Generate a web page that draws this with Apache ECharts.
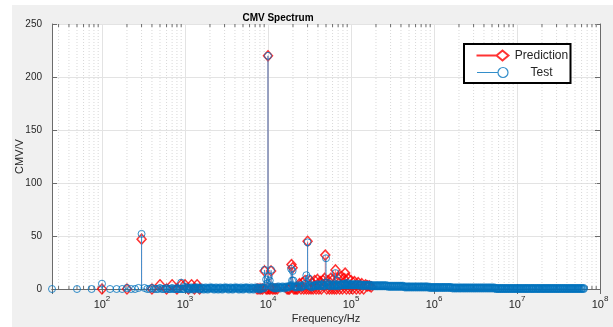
<!DOCTYPE html>
<html><head><meta charset="utf-8">
<script src="https://cdn.jsdelivr.net/npm/echarts@6/dist/echarts.min.js"></script>
<style>html,body{margin:0;padding:0;background:#fff}#c{width:613px;height:327px}</style>
</head><body><div id="c"></div>
<script>
// ---- tick labels ----
const xTickExps = [2, 3, 4, 5, 6, 7, 8];
const yTicks = [0, 50, 100, 150, 200, 250];
const seriesNames = ['Prediction', 'Test'];

// ---- Prediction (red diamonds) ----
const predFreq = [100, 200, 300, 400, 500, 600, 700, 800, 900, 1000, 1100, 1200, 1300, 1400, 1500,
  7400, 7800, 8200, 8600, 9100, 9500, 9800, 10000, 10300, 10600, 10900, 11300, 11800, 12300, 12900,
  17000, 17600, 18200, 19200, 19800, 20500, 21200, 21900, 22700,
  24000, 25000, 26000, 27000, 28000, 29000, 30000, 31000, 32000, 33000, 34000, 35000, 36500, 38000, 39500,
  41000, 42500, 44000, 46000, 48000, 49000, 51000, 53000, 55000, 57000, 59000, 61000, 63000, 65000, 67000,
  70000, 73000, 76000, 79000, 82000, 85000, 88000, 92000, 96000, 100000, 105000, 110000, 116000, 122000,
  128000, 135000, 142000, 150000, 158000, 166000, 175000];
const predVal = [0, 0, 47, 0, 4, 0, 4, 0, 4, 4, 0, 4, 0, 4, 0,
  0, 0, 0, 0, 17, 0, 0, 220, 0, 0, 17, 0, 0, 0, 0,
  0, 0, 0, 23, 20, 0, 0, 0, 0,
  5, 0, 6, 0, 8, 0, 45, 0, 8, 0, 6, 0, 8, 0, 9,
  0, 7, 0, 8, 10, 32, 0, 8, 0, 10, 0, 9, 0, 18, 0,
  10, 0, 12, 0, 10, 15, 0, 10, 0, 8, 0, 7, 0, 6,
  0, 5, 0, 4, 3, 3, 2];

// ---- Test (blue circles): discrete peaks / low-frequency bins ----
const testFreq = [25, 50, 75, 100, 125, 150, 175, 200, 225, 250, 275, 300, 325, 350, 375, 400, 425, 450, 475, 500,
  525, 550, 575, 600, 625, 650, 675, 700, 725, 750, 775, 800, 825, 850, 875, 900, 925, 950, 975, 1000,
  9100, 9500, 9800, 10000, 10200, 10500, 10900,
  19000, 19500, 19800, 20200, 28000, 29000, 30000, 31000,
  48000, 50000, 52000, 65000, 68000, 85000, 90000];
const testVal = [0, 0, 0, 5, 0, 0, 0, 1, 0, 0, 1, 52, 1, 0, 0, 1, 0, 0, 0, 1,
  0, 0, 0, 1, 0, 0, 0, 1, 0, 0, 0, 1, 0, 0, 0, 6, 0, 0, 0, 2,
  18, 9, 5, 220, 12, 8, 18,
  19, 8, 17, 8, 5, 13, 44, 10,
  6, 29, 6, 15, 8, 5, 6];

// ---- Test (blue circles): dense measured floor ----
const testFloorFreq = [1060, 1120, 1190, 1260, 1330, 1410, 1500, 1580, 1680, 1780, 1880, 2000, 2110, 2240, 2370, 2510,
  2660, 2820, 2990, 3160, 3350, 3550, 3760, 3980, 4220, 4470, 4730, 5010, 5310, 5620, 5960, 6310, 6680, 7080,
  7500, 7940, 8410, 8910,
  11200, 11900, 12600, 13300, 14100, 15000, 15800, 16800, 17800, 18800, 21100, 22400, 23700, 25100, 26600,
  31600, 33500, 35500, 37600, 39800, 42200, 44700, 47300, 53100, 56200, 59600, 63100, 66800, 70800, 75000,
  79400, 84100, 89100, 94400,
  100000, 106000, 112000, 119000, 126000, 133000, 141000, 150000, 158000, 168000, 178000, 188000, 200000,
  211000, 224000, 237000, 251000, 266000, 282000, 299000, 316000, 335000, 355000, 376000, 398000, 422000,
  447000, 473000, 501000, 531000, 562000, 596000, 631000, 668000, 708000, 750000, 794000, 841000, 891000, 944000,
  1000000, 1060000, 1120000, 1190000, 1260000, 1330000, 1410000, 1500000, 1580000, 1680000, 1780000, 1880000,
  2000000, 2110000, 2240000, 2370000, 2510000, 2660000, 2820000, 2990000, 3160000, 3350000, 3550000, 3760000,
  3980000, 4220000, 4470000, 4730000, 5010000, 5310000, 5620000, 5960000, 6310000, 6680000, 7080000, 7500000,
  7940000, 8410000, 8910000, 9440000,
  10000000, 10600000, 11200000, 11900000, 12600000, 13300000, 14100000, 15000000, 15800000, 16800000,
  17800000, 18800000, 20000000, 21100000, 22400000, 23700000, 25100000, 26600000, 28200000, 29900000,
  31600000, 33500000, 35500000, 37600000, 39800000, 42200000, 44700000, 47300000, 50100000, 53100000,
  56200000, 59600000, 63100000];
const testFloorVal = [1, 0, 1, 0, 1, 1, 0, 1, 0, 1, 0, 1, 1, 0, 1, 0,
  1, 0, 1, 1, 0, 1, 0, 1, 1, 0, 1, 0, 1, 1, 0, 1, 0, 1,
  1, 0, 1, 1,
  2, 1, 1, 2, 1, 2, 1, 2, 2, 3, 2, 2, 3, 2, 3,
  3, 2, 3, 3, 4, 3, 4, 3, 4, 3, 4, 3, 4, 3, 4,
  4, 4, 4, 4,
  4, 4, 4, 4, 4, 3.5, 3.5, 3.5, 3.5, 3.5, 3, 3, 3,
  3, 3, 3, 3, 3, 2.5, 2.5, 2.5, 2.5, 2.5, 2.5, 2.5, 2.5,
  2, 2, 2, 2, 2, 2, 2, 2, 2, 2, 2, 2, 1.5, 1.5,
  1.5, 1.5, 1.5, 1.5, 1.5, 1.5, 1.5, 1.5, 1.5, 1, 1, 1,
  1, 1, 1, 1, 1, 1, 1, 1, 1, 1, 1, 1,
  1, 1, 1, 1, 1, 1, 0.5, 0.5, 0.5, 0.5, 0.5, 0.5,
  0.5, 0.5, 0.5, 0.5,
  0.5, 0.5, 0.5, 0.5, 0.5, 0.5, 0.5, 0.5, 0.5, 0.5,
  0.5, 0.5, 0.5, 0.5, 0.5, 0.5, 0.5, 0.5, 0.5, 0.5,
  0.5, 0.5, 0.5, 0.5, 0.5, 0.5, 0.5, 0.5, 0.5, 0.5,
  0.5, 0.5, 0.5];

const RED = '#ff0000';
const BLUE = '#0072bd';
const STEM_BLUE = '#3d8fcf';
const AXIS = '#6b6b6b';
const TXT = '#262626';
const X_MIN = 25, X_MAX = 1e8;

const predData = predFreq.map((f, i) => [f, predVal[i]]);
const testData = testFreq.map((f, i) => [f, testVal[i]]);
const testFloorData = testFloorFreq.map((f, i) => [f, testFloorVal[i]]);

// minor decade positions (axis structure)
const minorPos = [];
for (let e = 1; e < 8; e++) for (let k = 2; k <= 9; k++) { const v = k * Math.pow(10, e); if (v > X_MIN && v < X_MAX) minorPos.push([v, 0]); }

function stem(color, opacity) {
  return function (params, api) {
    const p0 = api.coord([api.value(0), 0]);
    const p1 = api.coord([api.value(0), api.value(1)]);
    return { type: 'line', shape: { x1: p0[0], y1: p0[1], x2: p1[0], y2: p1[1] }, style: { stroke: color, lineWidth: 1, opacity: opacity } };
  };
}
function minorRender(params, api) {
  const b = api.coord([api.value(0), 0]);
  const t = api.coord([api.value(0), 250]);
  return { type: 'group', children: [
    { type: 'line', shape: { x1: b[0], y1: b[1], x2: t[0], y2: t[1] }, style: { stroke: '#d8d8d8', lineWidth: 1, lineDash: [1, 2] } },
    { type: 'line', shape: { x1: b[0], y1: b[1], x2: b[0], y2: b[1] - 3 }, style: { stroke: AXIS, lineWidth: 1 } },
    { type: 'line', shape: { x1: t[0], y1: t[1], x2: t[0], y2: t[1] + 3 }, style: { stroke: AXIS, lineWidth: 1 } }
  ] };
}

const chart = echarts.init(document.getElementById('c'), null, { renderer: 'canvas' });
const axisBase = {
  type: 'log', logBase: 10, min: X_MIN, max: X_MAX,
  axisLine: { show: true, lineStyle: { color: AXIS, width: 1 } },
  axisTick: { show: true, inside: true, length: 5, lineStyle: { color: AXIS } },
  minorTick: { show: false }, splitLine: { show: false }
};
const option = {
  animation: false,
  backgroundColor: '#ffffff',
  graphic: [{ type: 'rect', left: 12, top: 5, shape: { width: 601, height: 322 }, style: { fill: '#f0f0f0' }, z: -10, silent: true }],
  title: { text: 'CMV Spectrum', left: 273, top: 8, textAlign: 'center',
    textStyle: { fontFamily: 'Liberation Sans', fontSize: 10, fontWeight: 'bold', color: '#000' } },
  legend: {
    data: [
      { name: 'Prediction', icon: 'path://M0,5L20,5M20,5L26,0L32,5L26,10Z', itemStyle: { color: 'none', borderColor: RED, borderWidth: 2 } },
      { name: 'Test', icon: 'path://M0,5L21,5M21,5A5,5 0 1 1 31,5A5,5 0 1 1 21,5Z', itemStyle: { color: 'none', borderColor: BLUE, borderWidth: 1.2 } }
    ],
    orient: 'vertical', left: 464, top: 44, itemWidth: 32, itemHeight: 10, itemGap: 2,
    padding: [4, 1, 3, 10], backgroundColor: '#fff', borderColor: '#000', borderWidth: 2, borderRadius: 0,
    formatter: function (n) { return '{c|' + n + '}'; },
    textStyle: { fontFamily: 'Liberation Sans', fontSize: 12, color: TXT,
      rich: { c: { fontFamily: 'Liberation Sans', fontSize: 12, color: TXT, width: 56, align: 'center', lineHeight: 14 } } },
    selectedMode: false
  },
  grid: { left: 52, right: 13, top: 24, bottom: 38, show: true, backgroundColor: '#fff', borderWidth: 0,
    outerBoundsMode: 'none', containLabel: false },
  xAxis: [
    Object.assign({}, axisBase, {
      position: 'bottom',
      name: 'Frequency/Hz', nameLocation: 'middle', nameGap: 24, nameMoveOverlap: false,
      nameTextStyle: { fontFamily: 'Liberation Sans', fontSize: 11, color: TXT },
      splitLine: { show: true, lineStyle: { color: '#e3e3e3', width: 1 } },
      axisLabel: { show: true, margin: 4, formatter: function (v) {
        const e = Math.log10(v), r = Math.round(e);
        if (Math.abs(e - r) > 1e-6 || xTickExps.indexOf(r) < 0) return '';
        return '{b|10}{s|' + r + '}';
      }, rich: {
        b: { fontFamily: 'Liberation Sans', fontSize: 11, color: TXT, padding: [6, 0, 0, 0] },
        s: { fontFamily: 'Liberation Sans', fontSize: 8, color: TXT, padding: [0, 0, 6, 0] }
      } }
    }),
    Object.assign({}, axisBase, { position: 'top', axisLabel: { show: false } })
  ],
  yAxis: [
    { type: 'value', min: yTicks[0], max: yTicks[yTicks.length - 1], interval: 50, position: 'left',
      name: 'CMV/V', nameLocation: 'middle', nameGap: 27, nameMoveOverlap: false,
      nameTextStyle: { fontFamily: 'Liberation Sans', fontSize: 11, color: TXT },
      axisLine: { show: true, lineStyle: { color: AXIS } },
      axisTick: { show: true, inside: true, length: 5, lineStyle: { color: AXIS } },
      axisLabel: { fontFamily: 'Liberation Sans', fontSize: 10, color: TXT, margin: 10 },
      splitLine: { show: true, lineStyle: { color: '#e3e3e3' } } },
    { type: 'value', min: yTicks[0], max: yTicks[yTicks.length - 1], interval: 50, position: 'right',
      axisLine: { show: true, lineStyle: { color: AXIS } },
      axisTick: { show: true, inside: true, length: 5, lineStyle: { color: AXIS } },
      axisLabel: { show: false }, splitLine: { show: false } }
  ],
  series: [
    { type: 'custom', name: 'minor', xAxisIndex: 0, yAxisIndex: 0, data: minorPos, renderItem: minorRender, silent: true, z: 1 },
    { type: 'custom', name: 'predStem', xAxisIndex: 0, yAxisIndex: 0, data: predData, renderItem: stem(RED, 0.5), encode: { x: 0, y: 1 }, z: 2 },
    { type: 'scatter', name: 'Prediction', xAxisIndex: 0, yAxisIndex: 0, data: predData, symbol: 'diamond', symbolSize: [9, 10],
      itemStyle: { color: 'none', borderColor: RED, borderWidth: 1.5 }, clip: false, z: 3 },
    { type: 'custom', name: 'testStem', xAxisIndex: 0, yAxisIndex: 0, data: testData.concat(testFloorData), renderItem: stem(STEM_BLUE, 1), encode: { x: 0, y: 1 }, z: 4 },
    { type: 'scatter', name: 'Test', xAxisIndex: 0, yAxisIndex: 0, data: testData, symbol: 'circle', symbolSize: 7,
      itemStyle: { color: 'none', borderColor: BLUE, borderWidth: 1 }, clip: false, z: 5 },
    { type: 'scatter', name: 'Test', xAxisIndex: 0, yAxisIndex: 0, data: testFloorData, symbol: 'circle', symbolSize: 7,
      itemStyle: { color: 'none', borderColor: BLUE, borderWidth: 2 }, clip: false, z: 5 }
  ]
};
chart.setOption(option);
</script>
</body></html>
